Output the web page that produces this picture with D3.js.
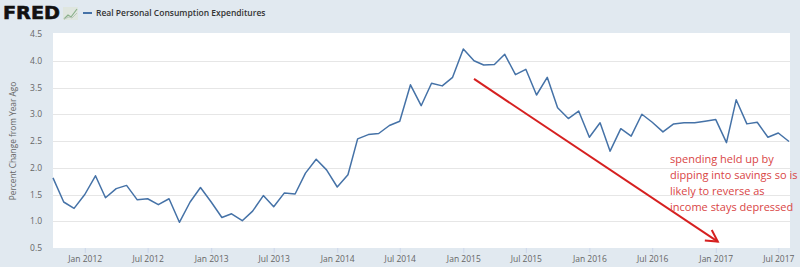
<!DOCTYPE html>
<html>
<head>
<meta charset="utf-8">
<script src="https://cdn.jsdelivr.net/npm/d3@7"></script>
<style>
  body { margin: 0; background: #e1e9f0; overflow: hidden; }
  svg { display: block; font-family: "Open Sans", sans-serif; }
</style>
</head>
<body>
<div id="chart"></div>
<script>
// monthly values, Oct 2011 .. Aug 2017
const startMonth = "2011-10";
const values = [
  1.81, 1.36, 1.24,
  1.50, 1.85, 1.44, 1.61, 1.67, 1.40, 1.42, 1.31, 1.42, 0.98, 1.36, 1.63,
  1.36, 1.07, 1.14, 1.01, 1.19, 1.48, 1.27, 1.53, 1.51, 1.90, 2.16, 1.96,
  1.64, 1.87, 2.54, 2.62, 2.64, 2.79, 2.87, 3.55, 3.16, 3.58, 3.53, 3.69,
  4.22, 4.00, 3.92, 3.93, 4.12, 3.74, 3.84, 3.36, 3.69, 3.12, 2.92, 3.06,
  2.57, 2.84, 2.31, 2.73, 2.59, 3.00, 2.85, 2.67, 2.82, 2.84, 2.84, 2.87,
  2.90, 2.47, 3.27, 2.82, 2.85, 2.57, 2.65, 2.49
];
const yTicks = [0.5, 1.0, 1.5, 2.0, 2.5, 3.0, 3.5, 4.0, 4.5];
const xTickMonths = ["2012-01", "2012-07", "2013-01", "2013-07", "2014-01", "2014-07",
  "2015-01", "2015-07", "2016-01", "2016-07", "2017-01", "2017-07"];
const seriesName = "Real Personal Consumption Expenditures";
const yTitle = "Percent Change from Year Ago";
const noteLines = ["spending held up by", "dipping into savings so is",
  "likely to reverse as", "income stays depressed"];
// arrow drawn in data space: [month, value]
const arrowFrom = ["2015-02", 3.66];
const arrowTo = ["2017-01", 0.62];

const width = 800;
const height = 267;
const margin = { top: 34, right: 10, bottom: 19, left: 53 };
const parse = d3.timeParse("%Y-%m");

const data = values.map((v, i) => ({
  date: d3.timeMonth.offset(parse(startMonth), i),
  value: v
}));

const svg = d3.select("#chart").append("svg")
  .attr("width", width)
  .attr("height", height);

const x = d3.scaleTime()
  .domain(d3.extent(data, d => d.date))
  .range([margin.left, width - margin.right - 1]);

const y = d3.scaleLinear()
  .domain([0.5, 4.5])
  .range([height - margin.bottom, margin.top]);

// plot background
svg.append("rect")
  .attr("x", margin.left)
  .attr("y", margin.top - 1)
  .attr("width", width - margin.right - margin.left)
  .attr("height", height - margin.bottom - margin.top + 1)
  .attr("fill", "#fff");

// grid
svg.append("g")
  .selectAll("line")
  .data(yTicks.slice(1, -1))
  .join("line")
  .attr("x1", margin.left)
  .attr("x2", width - margin.right)
  .attr("y1", d => Math.round(y(d)) + 0.5)
  .attr("y2", d => Math.round(y(d)) + 0.5)
  .attr("stroke", "#e6e6e6");

// y labels
svg.append("g")
  .selectAll("text")
  .data(yTicks)
  .join("text")
  .attr("x", 42)
  .attr("y", d => y(d) + 3)
  .attr("text-anchor", "end")
  .attr("font-size", 8.5)
  .attr("fill", "#666")
  .text(d => d3.format(".1f")(d));

svg.append("text")
  .attr("transform", `translate(16,${(margin.top + height - margin.bottom) / 2}) rotate(-90)`)
  .attr("text-anchor", "middle")
  .attr("font-size", 8.3)
  .attr("fill", "#666")
  .text(yTitle);

// x axis
const xAxis = svg.append("g")
  .attr("transform", `translate(0,${height - margin.bottom})`)
  .call(d3.axisBottom(x)
    .tickValues(xTickMonths.map(parse))
    .tickFormat(d3.timeFormat("%b %Y"))
    .tickSize(5)
    .tickPadding(3));
xAxis.select(".domain").remove();
xAxis.selectAll("line").attr("stroke", "#ccd6eb");
xAxis.selectAll("text")
  .attr("font-family", "Open Sans, sans-serif")
  .attr("font-size", 8.5)
  .attr("fill", "#666");

// series
const line = d3.line()
  .x(d => x(d.date))
  .y(d => y(d.value));

svg.append("path")
  .datum(data)
  .attr("fill", "none")
  .attr("stroke", "#4572a7")
  .attr("stroke-width", 1.5)
  .attr("stroke-linejoin", "round")
  .attr("d", line);

// header
svg.append("text")
  .attr("x", 3)
  .attr("y", 19)
  .attr("font-family", "DejaVu Sans, sans-serif")
  .attr("font-weight", 900)
  .attr("font-size", 18)
  .attr("fill", "#111")
  .attr("stroke", "#111")
  .attr("stroke-width", 0.6)
  .attr("textLength", 57)
  .attr("lengthAdjust", "spacingAndGlyphs")
  .text("FRED");

const icon = svg.append("g").attr("transform", "translate(63,7)");
icon.append("rect").attr("width", 15).attr("height", 13).attr("fill", "#dfe6df");
icon.append("polyline")
  .attr("points", "1,12 5,8 8,10 14,2")
  .attr("fill", "none")
  .attr("stroke", "#8ab08a")
  .attr("stroke-width", 1.2);
icon.append("polyline")
  .attr("points", "1,12 6,10 9,11 14,6")
  .attr("fill", "none")
  .attr("stroke", "#b9c7b9")
  .attr("stroke-width", 1);

svg.append("line")
  .attr("x1", 83).attr("x2", 92)
  .attr("y1", 13).attr("y2", 13)
  .attr("stroke", "#4572a7")
  .attr("stroke-width", 2);

svg.append("text")
  .attr("x", 96)
  .attr("y", 16)
  .attr("font-size", 8.5)
  .attr("font-weight", 600)
  .attr("fill", "#333")
  .text(seriesName);

// annotation
const ax1 = x(parse(arrowFrom[0])), ay1 = y(arrowFrom[1]);
const ax2 = x(parse(arrowTo[0])) + 2, ay2 = y(arrowTo[1]);
const ang = Math.atan2(ay2 - ay1, ax2 - ax1);
const headLen = 13, spread = 0.5;
svg.append("line")
  .attr("x1", ax1).attr("y1", ay1)
  .attr("x2", ax2).attr("y2", ay2)
  .attr("stroke", "#d62020")
  .attr("stroke-width", 2);
svg.append("polyline")
  .attr("points", [
    [ax2 - headLen * Math.cos(ang - spread), ay2 - headLen * Math.sin(ang - spread)],
    [ax2, ay2],
    [ax2 - headLen * Math.cos(ang + spread), ay2 - headLen * Math.sin(ang + spread)]
  ].map(p => p.join(",")).join(" "))
  .attr("fill", "none")
  .attr("stroke", "#d62020")
  .attr("stroke-width", 2);

svg.append("g")
  .selectAll("text")
  .data(noteLines)
  .join("text")
  .attr("x", 670)
  .attr("y", (d, i) => 163 + i * 16)
  .attr("font-family", "Open Sans, sans-serif")
  .attr("font-size", 11)
  .attr("fill", "#d94545")
  .text(d => d);
</script>
</body>
</html>
